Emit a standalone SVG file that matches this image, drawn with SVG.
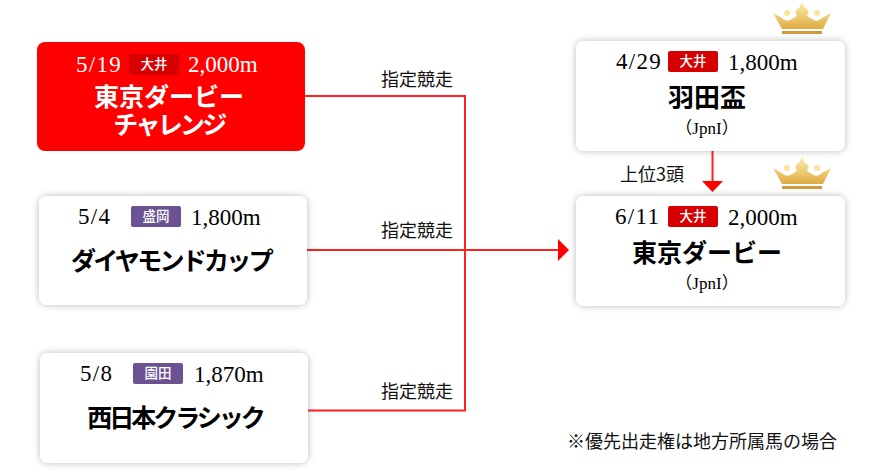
<svg xmlns="http://www.w3.org/2000/svg" width="885" height="472" viewBox="0 0 885 472">
<style>
.card{fill:#fff;filter:url(#sh)}
.num{font:23px "Liberation Serif","Noto Sans CJK JP",serif;fill:#000}
.date{letter-spacing:1.300px}
.title{font:700 25px "Noto Sans CJK JP",serif;fill:#000;text-anchor:middle}
.tight{letter-spacing:-2.700px}
.sub{font:17px "Liberation Serif","Noto Sans CJK JP",serif;fill:#000;text-anchor:middle}
.tag{font:500 13.500px "Noto Sans CJK JP",sans-serif;fill:#fff;text-anchor:middle}
.lab{font:18px "Noto Sans CJK JP",sans-serif;fill:#111;text-anchor:middle}
.line{fill:none;stroke:#ff2020;stroke-width:2}
.head{fill:#f00}
.red{fill:#d70000}.pur{fill:#6a5293}
</style>
<defs>
<filter id="sh" x="-6%" y="-12%" width="112%" height="124%"><feDropShadow dx="0" dy="0" stdDeviation="3.500" flood-color="#000" flood-opacity=".28"/></filter>
<linearGradient id="g" x1="0" y1="0" x2="0" y2="1"><stop offset="0" stop-color="#fdeea8"/><stop offset="1" stop-color="#e0ab45"/></linearGradient>
<g id="crown">
<path fill="url(#g)" d="M0 11 L9 16 Q14 21 19 17 L24 14 Q20 8 26 6 L29 0 L32 6 Q38 8 34 14 L39 17 Q44 21 49 16 L58 11 L50 27 L9 27 Z"/>
<circle cx="14" cy="11" r="3" fill="#f7e59c"/><circle cx="44" cy="11" r="3" fill="#f7e59c"/>
<rect x="9" y="29" width="40" height="3" fill="#cf9a3e"/>
</g>
</defs>
<g id="connectors">
<path class="line" d="M305 96H465V410.500H308"/>
<path class="line" d="M307 250H560"/>
<polygon class="head" points="558,239 569,250 558,261"/>
<path class="line" d="M712.500 151V183"/>
<polygon class="head" points="702,181 723,181 712.500,192"/>
<text class="lab" x="417" y="86">指定競走</text>
<text class="lab" x="417" y="237">指定競走</text>
<text class="lab" x="417" y="398">指定競走</text>
<text class="lab" x="652" y="181">上位3頭</text>
</g>
<g id="node-challenge">
<rect x="37" y="42" width="268" height="109" rx="8" fill="#f00"/>
<text class="num date" x="76" y="72" style="fill:#fff">5/19</text>
<rect x="129" y="54" width="50" height="21" rx="1" fill="#d70000"/>
<text class="tag" x="154" y="69">大井</text>
<text class="num" x="188" y="72" style="fill:#fff">2,000m</text>
<text class="title" style="fill:#fff"><tspan x="169" y="106">東京ダービー</tspan><tspan class="tight" x="169" y="134">チャレンジ</tspan></text>
</g>
<g id="node-diamond">
<rect class="card" x="39" y="196" width="268" height="109" rx="8"/>
<text class="num date" x="78" y="224">5/4</text>
<rect class="pur" x="131" y="206" width="50" height="21" rx="2"/>
<text class="tag" x="156" y="221">盛岡</text>
<text class="num" x="191" y="225">1,800m</text>
<text class="title tight" x="171" y="270">ダイヤモンドカップ</text>
</g>
<g id="node-nishinihon">
<rect class="card" x="40" y="353" width="268" height="110" rx="8"/>
<text class="num date" x="80" y="381">5/8</text>
<rect class="pur" x="133" y="363" width="50" height="21" rx="2"/>
<text class="tag" x="158" y="378">園田</text>
<text class="num" x="194" y="382">1,870m</text>
<text class="title" x="175" y="427" style="letter-spacing:-3px">西日本クラシック</text>
</g>
<g id="node-haneda">
<use href="#crown" x="773" y="2"/>
<rect class="card" x="576" y="41" width="269" height="110" rx="8"/>
<text class="num date" x="616" y="69">4/29</text>
<rect class="red" x="668" y="51" width="50" height="21" rx="2"/>
<text class="tag" x="693" y="66">大井</text>
<text class="num" x="728" y="70">1,800m</text>
<text class="title" x="707" y="107" style="font-size:26px">羽田盃</text>
<text class="sub" x="707" y="134">（JpnI）</text>
</g>
<g id="node-derby">
<use href="#crown" x="773" y="157"/>
<rect class="card" x="576" y="196" width="269" height="110" rx="8"/>
<text class="num date" x="615" y="224">6/11</text>
<rect class="red" x="668" y="206" width="50" height="21" rx="2"/>
<text class="tag" x="693" y="221">大井</text>
<text class="num" x="728" y="225">2,000m</text>
<text class="title" x="707" y="262">東京ダービー</text>
<text class="sub" x="707" y="289">（JpnI）</text>
</g>
<text x="702" y="448" text-anchor="middle" style="font:18px 'Noto Sans CJK JP',sans-serif;fill:#111">※優先出走権は地方所属馬の場合</text>
</svg>
